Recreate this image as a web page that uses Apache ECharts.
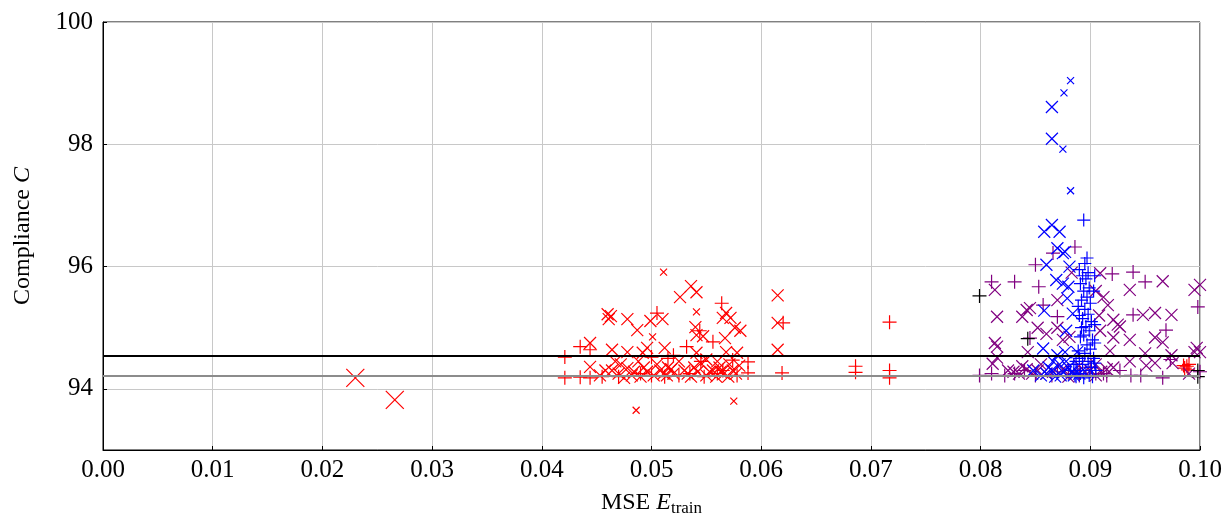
<!DOCTYPE html>
<html>
<head>
<meta charset="utf-8">
<script src="https://cdn.jsdelivr.net/npm/echarts@6/dist/echarts.min.js"></script>
<style>
html, body { margin: 0; padding: 0; background: #fff; }
#main { width: 1230px; height: 519px; }
</style>
</head>
<body>
<div id="main"></div>
<script>
// axis ticks
var yTicks = [94, 96, 98, 100];
// reference lines
var refBlack = 94.54;
var refGray = 94.21;

// red
var redBigX = [[0.0230, 94.18], [0.0266, 93.82]];
var redSmallX = [[0.0511, 95.91], [0.0486, 93.65], [0.0575, 93.80], [0.0541, 95.26], [0.0501, 94.85]];
var redX = [
	[0.0463, 95.19], [0.0461, 95.14], [0.0460, 95.22], [0.0478, 95.14], [0.0487, 94.96], [0.0499, 95.11],
	[0.0510, 95.14], [0.0526, 95.50], [0.0536, 95.68], [0.0541, 95.58], [0.0568, 95.24], [0.0565, 95.16],
	[0.0572, 95.16], [0.0576, 95.00], [0.0581, 94.95], [0.0540, 95.01], [0.0541, 94.88], [0.0547, 94.86],
	[0.0567, 94.83], [0.0444, 94.75], [0.0464, 94.64], [0.0478, 94.60], [0.0492, 94.59], [0.0496, 94.67],
	[0.0512, 94.67], [0.0541, 94.59], [0.0568, 94.60], [0.0578, 94.59], [0.0444, 94.36], [0.0464, 94.30],
	[0.0472, 94.40], [0.0478, 94.34], [0.0484, 94.28], [0.0490, 94.20], [0.0496, 94.28], [0.0502, 94.22],
	[0.0508, 94.30], [0.0514, 94.22], [0.0520, 94.25], [0.0530, 94.30], [0.0536, 94.20], [0.0542, 94.28],
	[0.0550, 94.22], [0.0556, 94.30], [0.0562, 94.35], [0.0566, 94.25], [0.0570, 94.20], [0.0574, 94.30],
	[0.0580, 94.38], [0.0615, 95.53], [0.0615, 95.08], [0.0615, 94.64], [0.0470, 94.25], [0.0475, 94.18],
	[0.0505, 94.40], [0.0525, 94.45], [0.0545, 94.42], [0.0560, 94.45], [0.0488, 94.45], [0.0515, 94.35],
	[0.0453, 94.22], [0.0458, 94.30], [0.0467, 94.45], [0.0482, 94.22], [0.0493, 94.35], [0.0511, 94.25],
	[0.0518, 94.32], [0.0533, 94.25], [0.0539, 94.35], [0.0553, 94.28], [0.0559, 94.20], [0.0563, 94.28],
	[0.0571, 94.40], [0.0577, 94.25], [0.0550, 94.48]
];
var redPlus = [
	[0.0505, 95.24], [0.0435, 94.69], [0.0444, 94.64], [0.0421, 94.52], [0.0421, 94.18], [0.0435, 94.19],
	[0.0444, 94.18], [0.0564, 95.40], [0.0544, 94.95], [0.0556, 94.77], [0.0532, 94.69], [0.0574, 94.47],
	[0.0588, 94.44], [0.0588, 94.26], [0.0620, 95.08], [0.0619, 94.26], [0.0686, 94.37], [0.0686, 94.27],
	[0.0717, 95.09], [0.0717, 94.30], [0.0717, 94.18], [0.0470, 94.20], [0.0500, 94.22], [0.0525, 94.22],
	[0.0548, 94.20], [0.0560, 94.25], [0.0578, 94.22], [0.0500, 94.52], [0.0520, 94.55],
	[0.0455, 94.20], [0.0490, 94.25], [0.0512, 94.20], [0.0535, 94.25], [0.0565, 94.30], [0.0545, 94.45],
	[0.0515, 94.50],
	[0.0988, 94.37], [0.0986, 94.34], [0.0990, 94.40], [0.0989, 94.31], [0.0985, 94.38]
];

// blue
var blueSmallX = [[0.0882, 99.04], [0.0876, 98.84], [0.0875, 97.92], [0.0882, 97.24]];
var blueX = [
	[0.0865, 98.61], [0.0865, 98.09], [0.0858, 96.57], [0.0865, 96.68], [0.0872, 96.57], [0.0870, 96.30],
	[0.0875, 96.22], [0.0877, 96.24], [0.0860, 96.03], [0.0881, 96.00], [0.0869, 95.78], [0.0875, 95.72],
	[0.0880, 95.67], [0.0879, 95.48], [0.0858, 95.28], [0.0884, 95.23], [0.0878, 94.95], [0.0857, 94.66],
	[0.0870, 94.55], [0.0865, 94.30], [0.0860, 94.25], [0.0875, 94.28], [0.0880, 94.35], [0.0885, 94.22],
	[0.0868, 94.20], [0.0890, 94.25], [0.0878, 94.45], [0.0888, 94.60], [0.0872, 94.40],
	[0.0862, 94.35], [0.0855, 94.22], [0.0883, 94.28], [0.0873, 94.22], [0.0866, 94.45], [0.0877, 94.60],
	[0.0848, 94.30]
];
var bluePlus = [
	[0.0894, 96.76], [0.0897, 96.14], [0.0895, 96.05], [0.0890, 95.95], [0.0898, 95.90], [0.0893, 95.85],
	[0.0896, 95.80], [0.0891, 95.72], [0.0899, 95.65], [0.0894, 95.60], [0.0897, 95.50], [0.0892, 95.45],
	[0.0900, 95.40], [0.0895, 95.30], [0.0898, 95.22], [0.0893, 95.15], [0.0901, 95.10], [0.0896, 95.02],
	[0.0899, 94.95], [0.0894, 94.88], [0.0902, 94.80], [0.0897, 94.72], [0.0900, 94.65], [0.0895, 94.58],
	[0.0903, 94.50], [0.0898, 94.45], [0.0893, 94.40], [0.0901, 94.35], [0.0896, 94.30], [0.0891, 94.25],
	[0.0899, 94.22], [0.0894, 94.18], [0.0902, 94.20], [0.0888, 94.30], [0.0885, 94.40], [0.0890, 94.50],
	[0.0892, 95.00], [0.0890, 95.20], [0.0903, 95.60],
	[0.0886, 94.22], [0.0882, 94.30], [0.0905, 94.30], [0.0904, 94.42], [0.0887, 94.45], [0.0889, 94.62],
	[0.0904, 94.75], [0.0891, 94.85], [0.0904, 95.05], [0.0889, 95.35], [0.0904, 95.85], [0.0887, 94.20]
];

// purple
var purpleX = [
	[0.0813, 95.62], [0.0815, 95.18], [0.0838, 95.18], [0.0842, 95.29], [0.0845, 95.32], [0.0870, 95.00],
	[0.0875, 94.80], [0.0881, 94.85], [0.0813, 94.75], [0.0815, 94.69], [0.0843, 94.60], [0.0815, 94.51],
	[0.0811, 94.41], [0.0838, 94.37], [0.0842, 94.32], [0.0847, 94.25], [0.0909, 95.89], [0.0966, 95.76],
	[0.0936, 95.62], [0.0995, 95.62], [0.1000, 95.70], [0.0916, 95.37], [0.0948, 95.21], [0.0959, 95.24],
	[0.0974, 95.21], [0.0921, 95.13], [0.0925, 95.05], [0.0927, 95.02], [0.0959, 94.84], [0.0966, 94.76],
	[0.0936, 94.80], [0.0921, 94.84], [0.0909, 94.95], [0.0918, 94.62], [0.0950, 94.58], [0.0997, 94.67],
	[0.1000, 94.60], [0.0995, 94.60], [0.0936, 94.45], [0.0959, 94.42], [0.0975, 94.42], [0.0974, 94.55],
	[0.0921, 94.35], [0.0951, 94.38], [0.0860, 94.25], [0.0875, 94.32], [0.0855, 94.40], [0.0900, 94.30],
	[0.0905, 94.22], [0.0880, 94.20], [0.0910, 94.28], [0.0830, 94.28], [0.0852, 95.00], [0.0860, 94.90],
	[0.0905, 95.60], [0.0912, 95.50], [0.0908, 95.20], [0.0990, 94.25],
	[0.0852, 94.30], [0.0866, 94.28], [0.0885, 94.25], [0.0895, 94.28], [0.0915, 94.32], [0.0905, 94.40],
	[0.0890, 94.38], [0.0825, 94.30], [0.0835, 94.25], [0.0883, 95.90], [0.0870, 95.45]
];
var purplePlus = [
	[0.0939, 95.91], [0.0950, 95.75], [0.0810, 95.75], [0.0831, 95.75], [0.0853, 95.67], [0.0850, 96.03],
	[0.0857, 95.37], [0.0870, 95.18], [0.0845, 94.83], [0.0939, 95.21], [0.0969, 94.96], [0.0920, 95.88],
	[0.0998, 95.34], [0.0973, 94.48], [0.0799, 94.22], [0.0810, 94.25], [0.0831, 94.25], [0.0927, 94.30],
	[0.0937, 94.22], [0.0946, 94.22], [0.0966, 94.18], [0.1000, 94.28], [0.0866, 96.22], [0.0886, 96.32],
	[0.0840, 94.30], [0.0865, 94.22], [0.0905, 94.25], [0.0915, 94.22], [0.0880, 94.30],
	[0.0850, 94.22], [0.0870, 94.28], [0.0890, 94.22], [0.0900, 94.35], [0.0912, 94.25], [0.0822, 94.22]
];

// black
var blackPlus = [[0.0799, 95.52], [0.0843, 94.82], [0.0998, 94.30], [0.0998, 94.20]];

var crossPath = 'path://M0,0L10,10M10,0L0,10';
var plusPath = 'path://M5,0L5,10M0,5L10,5';

function marks(data, shape, size, color) {
	return {
		type: 'scatter',
		data: data,
		symbol: shape,
		symbolSize: size,
		silent: true,
		z: 3,
		itemStyle: {
			color: 'rgba(0,0,0,0)',
			borderColor: color,
			borderWidth: 1.2,
			opacity: 1
		}
	};
}

var font = 'Liberation Serif';

var myChart = echarts.init(document.getElementById('main'));
var option = {
	animation: false,
	grid: {
		left: 103,
		right: 30,
		top: 22,
		bottom: 69,
		outerBoundsMode: 'none',
		show: true,
		borderColor: '#000',
		borderWidth: 1
	},
	xAxis: {
		type: 'value',
		min: 0,
		max: 0.1,
		interval: 0.01,
		name: '{n|MSE }{i|E}{s|train}',
		nameLocation: 'middle',
		nameGap: 38,
		nameTextStyle: {
			rich: {
				n: { fontFamily: font, fontSize: 24, color: '#000' },
				i: { fontFamily: font, fontSize: 24, fontStyle: 'italic', color: '#000' },
				s: { fontFamily: font, fontSize: 17, color: '#000', verticalAlign: 'bottom', padding: [12, 0, 0, 0] }
			}
		},
		axisLine: { show: true, lineStyle: { color: '#000', width: 1 } },
		axisTick: { show: true, inside: true, length: 4, lineStyle: { color: '#000' } },
		axisLabel: {
			fontFamily: font,
			fontSize: 25,
			color: '#000',
			margin: 8,
			formatter: function (v) { return v.toFixed(2); }
		},
		splitLine: { show: true, lineStyle: { color: '#c8c8c8', width: 1 } }
	},
	yAxis: {
		type: 'value',
		min: 93,
		max: 100,
		name: '{n|Compliance }{i|C}',
		nameLocation: 'middle',
		nameGap: 68,
		nameRotate: 90,
		nameTextStyle: {
			rich: {
				n: { fontFamily: font, fontSize: 24, color: '#000' },
				i: { fontFamily: font, fontSize: 24, fontStyle: 'italic', color: '#000' }
			}
		},
		axisLine: { show: true, lineStyle: { color: '#000', width: 1 } },
		axisTick: { show: true, inside: true, length: 4, customValues: yTicks, lineStyle: { color: '#000' } },
		axisLabel: {
			fontFamily: font,
			fontSize: 25,
			color: '#000',
			margin: 10,
			customValues: yTicks
		},
		splitLine: { show: true, lineStyle: { color: '#c8c8c8', width: 1 } }
	},
	series: [
		{
			type: 'scatter',
			data: [],
			silent: true,
			z: 2,
			markLine: {
				silent: true,
				symbol: 'none',
				label: { show: false },
				animation: false,
				data: [
					{ yAxis: refBlack, lineStyle: { color: '#000', width: 2, type: 'solid' } },
					{ yAxis: refGray, lineStyle: { color: '#8c8c8c', width: 2, type: 'solid' } }
				]
			}
		},
		marks(redBigX, crossPath, 18, '#ff0000'),
		marks(redX, crossPath, 12, '#ff0000'),
		marks(redSmallX, crossPath, 7, '#ff0000'),
		marks(redPlus, plusPath, 14, '#ff0000'),
		marks(purpleX, crossPath, 12, '#800080'),
		marks(purplePlus, plusPath, 14, '#800080'),
		marks(blueX, crossPath, 12, '#0000ff'),
		marks(blueSmallX, crossPath, 7, '#0000ff'),
		marks(bluePlus, plusPath, 13, '#0000ff'),
		marks(blackPlus, plusPath, 14, '#000000')
	]
};
myChart.setOption(option);
</script>
</body>
</html>
